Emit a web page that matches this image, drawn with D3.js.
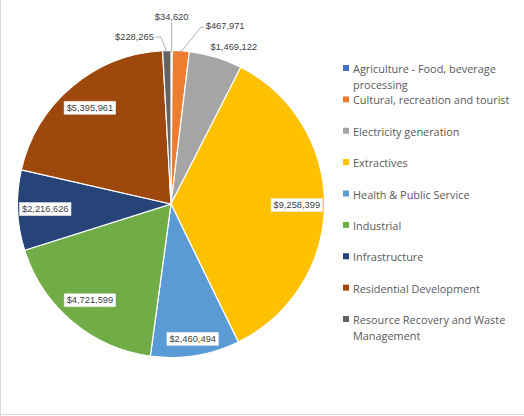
<!DOCTYPE html>
<html><head><meta charset="utf-8">
<script src="https://cdn.jsdelivr.net/npm/d3@7"></script>
<style>
html,body{margin:0;padding:0;background:#fff;}
svg{display:block;}
</style></head>
<body>
<svg id="chart" width="524" height="416"></svg>
<script>
const categories = [
  "Agriculture - Food, beverage processing",
  "Cultural, recreation and tourist",
  "Electricity generation",
  "Extractives",
  "Health & Public Service",
  "Industrial",
  "Infrastructure",
  "Residential Development",
  "Resource Recovery and Waste Management"
];
const values = [34620, 467971, 1469122, 9258399, 2460494, 4721599, 2216626, 5395961, 228265];
const colors = ["#4472C4","#ED7D31","#A5A5A5","#FFC000","#5B9BD5","#70AD47","#264478","#9E480E","#636363"];
const legendLines = [
  ["Agriculture - Food, beverage","processing"],
  ["Cultural, recreation and tourist"],
  ["Electricity generation"],
  ["Extractives"],
  ["Health & Public Service"],
  ["Industrial"],
  ["Infrastructure"],
  ["Residential Development"],
  ["Resource Recovery and Waste","Management"]
];

const svg = d3.select("#chart");
const W = 524, H = 416;
// frame
svg.append("line").attr("x1",0.5).attr("y1",0).attr("x2",0.5).attr("y2",H).attr("stroke","#d9d9d9");
svg.append("line").attr("x1",0).attr("y1",H-1.5).attr("x2",W).attr("y2",H-1.5).attr("stroke","#d9d9d9");

const cx = 171, cy = 204, R = 153.5;
const g = svg.append("g").attr("transform",`translate(${cx},${cy})`);
const pie = d3.pie().sort(null).value(d=>d)(values);
const arc = d3.arc().innerRadius(0).outerRadius(R);

g.selectAll("path.slice").data(pie).join("path")
  .attr("class","slice")
  .attr("d",arc)
  .attr("fill",(d,i)=>colors[i])
  .attr("stroke","#fff").attr("stroke-width",1.2);

const fmt = v => "$" + d3.format(",")(v);
const labelFont = "'Liberation Sans', Arial, sans-serif";
const total = d3.sum(values);

function boxLabel(x, y, text, boxed, anchor) {
  const t = g.append("text")
    .attr("x", x).attr("y", y)
    .attr("text-anchor", anchor || "middle")
    .attr("dominant-baseline","central")
    .attr("font-family", labelFont).attr("font-size", 9.3)
    .attr("fill","#404040").text(text);
  if (boxed) {
    const bb = t.node().getBBox();
    g.insert("rect", function(){ return t.node(); })
      .attr("x", bb.x-2.5).attr("y", bb.y-1.5)
      .attr("width", bb.width+5).attr("height", bb.height+3)
      .attr("fill","#fff").attr("stroke","#e4e4e4").attr("stroke-width",0.6);
  }
  return t;
}

const pt = (a, r) => [Math.sin(a)*r, -Math.cos(a)*r];

pie.forEach((d,i) => {
  const frac = d.value/total;
  const mid = (d.startAngle + d.endAngle)/2;
  if (frac > 0.07) {
    let r = R*0.82;
    if (categories[i] === "Health & Public Service") r = R*0.89;
    const [x,y] = pt(mid, r);
    boxLabel(x, y, fmt(d.value), true);
  } else if (frac > 0.03) {
    const [x,y] = pt(mid + 0.085, R*1.1);
    boxLabel(x, y, fmt(d.value), false);
  } else {
    const [ax, ay] = pt(mid, R-1.5);
    const lineG = g.append("g").attr("stroke","#a6a6a6").attr("fill","none").attr("stroke-width",0.9);
    if (mid < 0.02) {
      lineG.append("polyline").attr("points", `${ax},${ay} ${ax},${-R-28}`);
      boxLabel(ax, -R-34, fmt(d.value), false);
    } else if (mid < Math.PI) {
      const ex = ax + 20, ey = ay - 25;
      lineG.append("polyline").attr("points", `${ax},${ay} ${ex},${ey} ${ex+3},${ey}`);
      boxLabel(ex+5, ey-1, fmt(d.value), false, "start");
    } else {
      const ex = ax - 6, ey = ay - 15;
      lineG.append("polyline").attr("points", `${ax},${ay} ${ex},${ey} ${ex-5},${ey}`);
      boxLabel(ex-7, ey, fmt(d.value), false, "end");
    }
  }
});

// legend
const legend = svg.append("g").attr("transform","translate(343,0)");
const ly = d3.scalePoint().domain(categories).range([68, 319]);
categories.forEach((c,i) => {
  const y0 = ly(c);
  legend.append("rect").attr("x",0).attr("y",y0-3).attr("width",6).attr("height",6).attr("fill",colors[i]);
  const t = legend.append("text").attr("x",10).attr("y",y0)
    .attr("font-family","'Open Sans', sans-serif").attr("font-size",10.9)
    .attr("fill","#595959").attr("dominant-baseline","central");
  legendLines[i].forEach((ln,j) => {
    t.append("tspan").attr("x",10).attr("dy", j===0?0:15.5).text(ln);
  });
});
</script>
</body></html>
